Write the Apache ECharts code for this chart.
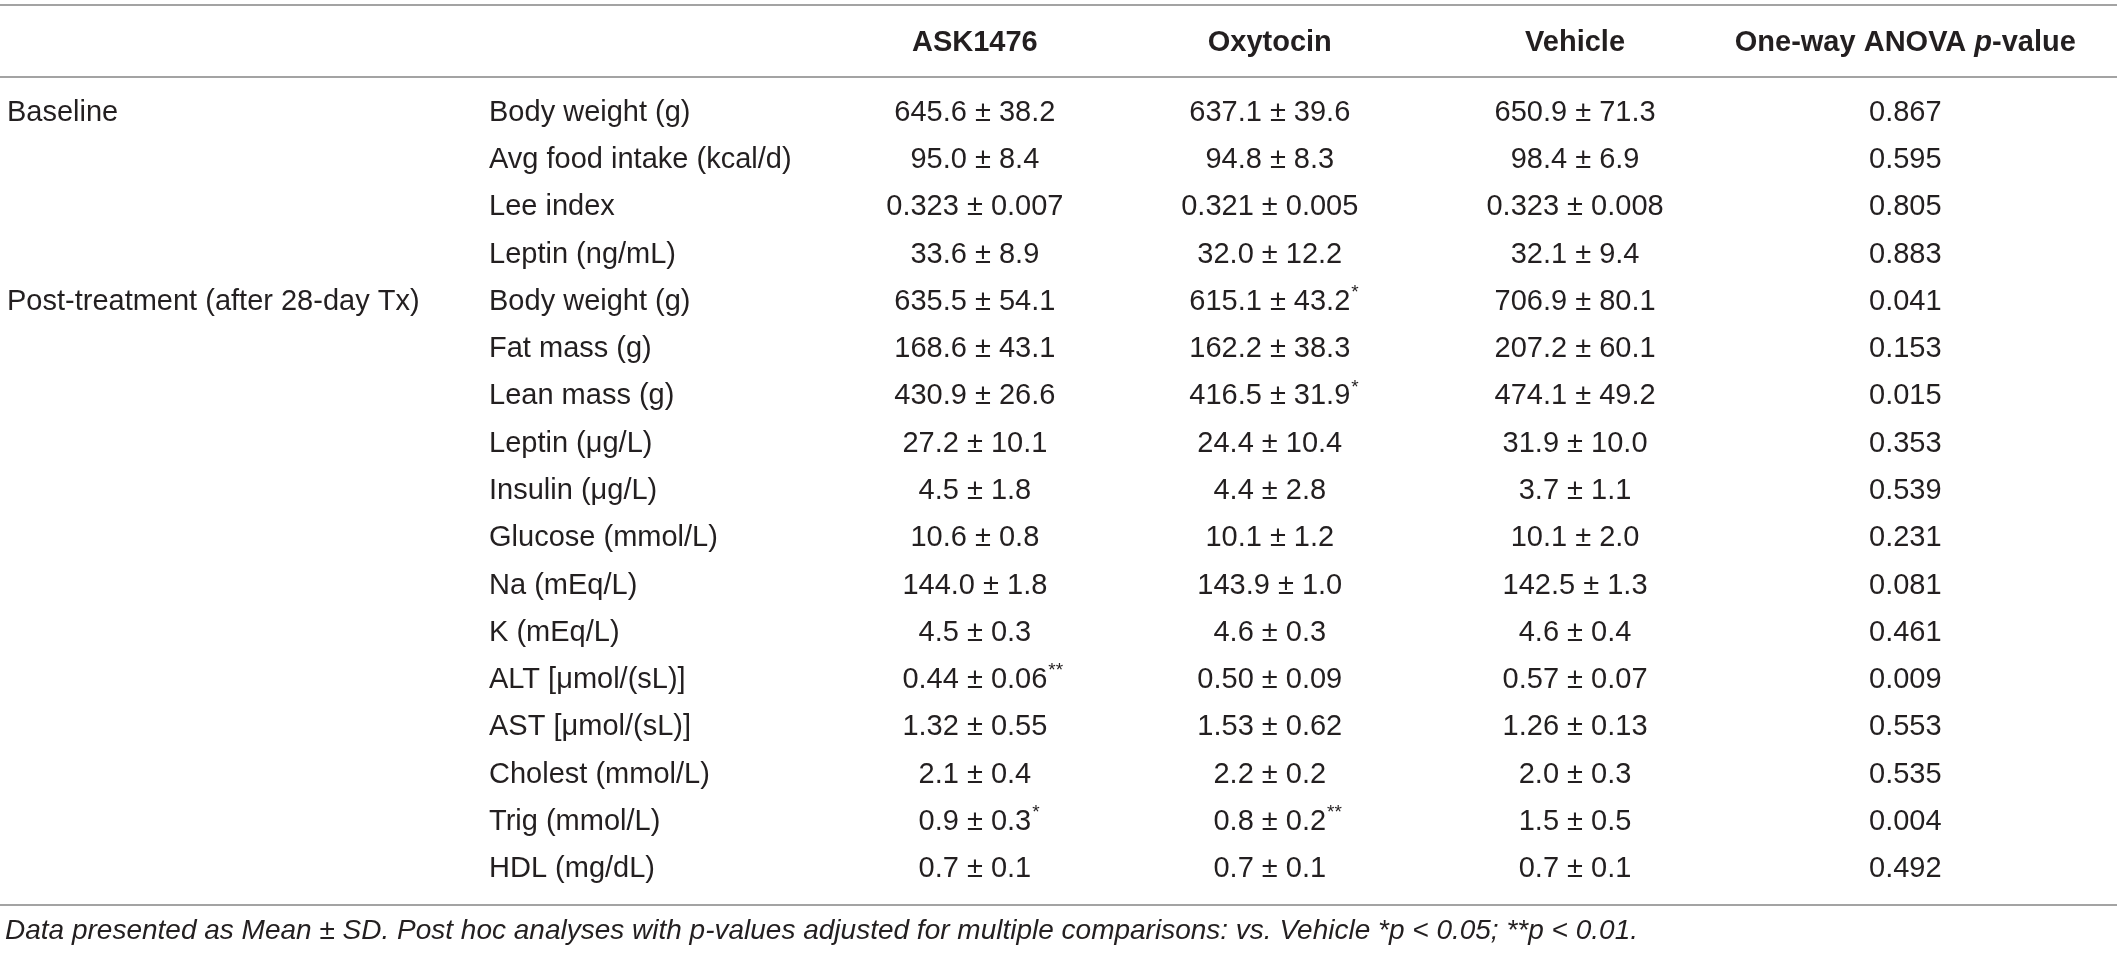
<!DOCTYPE html>
<html>
<head>
<meta charset="utf-8">
<title>Table</title>
<script src="https://cdn.jsdelivr.net/npm/echarts@6/dist/echarts.min.js"></script>
<style>
  html, body { margin: 0; padding: 0; background: #fff; }
  #chart { width: 100vw; height: 100vh; }
</style>
</head>
<body>
<div id="chart"></div>
<script>
// table content
const headers = ['', '', 'ASK1476', 'Oxytocin', 'Vehicle', 'One-way ANOVA p-value'];

const groups = ['Baseline', '', '', '', 'Post-treatment (after 28-day Tx)', '', '', '', '', '', '', '', '', '', '', '', ''];

const measures = [
  'Body weight (g)', 'Avg food intake (kcal/d)', 'Lee index', 'Leptin (ng/mL)',
  'Body weight (g)', 'Fat mass (g)', 'Lean mass (g)', 'Leptin (\u03bcg/L)', 'Insulin (\u03bcg/L)',
  'Glucose (mmol/L)', 'Na (mEq/L)', 'K (mEq/L)', 'ALT [\u03bcmol/(sL)]', 'AST [\u03bcmol/(sL)]',
  'Cholest (mmol/L)', 'Trig (mmol/L)', 'HDL (mg/dL)'
];

const ask1476 = [
  '645.6 ± 38.2', '95.0 ± 8.4', '0.323 ± 0.007', '33.6 ± 8.9',
  '635.5 ± 54.1', '168.6 ± 43.1', '430.9 ± 26.6', '27.2 ± 10.1', '4.5 ± 1.8',
  '10.6 ± 0.8', '144.0 ± 1.8', '4.5 ± 0.3', '0.44 ± 0.06**', '1.32 ± 0.55',
  '2.1 ± 0.4', '0.9 ± 0.3*', '0.7 ± 0.1'
];

const oxytocin = [
  '637.1 ± 39.6', '94.8 ± 8.3', '0.321 ± 0.005', '32.0 ± 12.2',
  '615.1 ± 43.2*', '162.2 ± 38.3', '416.5 ± 31.9*', '24.4 ± 10.4', '4.4 ± 2.8',
  '10.1 ± 1.2', '143.9 ± 1.0', '4.6 ± 0.3', '0.50 ± 0.09', '1.53 ± 0.62',
  '2.2 ± 0.2', '0.8 ± 0.2**', '0.7 ± 0.1'
];

const vehicle = [
  '650.9 ± 71.3', '98.4 ± 6.9', '0.323 ± 0.008', '32.1 ± 9.4',
  '706.9 ± 80.1', '207.2 ± 60.1', '474.1 ± 49.2', '31.9 ± 10.0', '3.7 ± 1.1',
  '10.1 ± 2.0', '142.5 ± 1.3', '4.6 ± 0.4', '0.57 ± 0.07', '1.26 ± 0.13',
  '2.0 ± 0.3', '1.5 ± 0.5', '0.7 ± 0.1'
];

const anovaP = [
  '0.867', '0.595', '0.805', '0.883',
  '0.041', '0.153', '0.015', '0.353', '0.539',
  '0.231', '0.081', '0.461', '0.009', '0.553',
  '0.535', '0.004', '0.492'
];

const footnote = 'Data presented as Mean \u00b1 SD. Post hoc analyses with p-values adjusted for multiple comparisons: vs. Vehicle *p < 0.05; **p < 0.01.';

// layout: column anchors in percent of width
const COLS = [
  { x: 0.33, align: 'left' },
  { x: 23.1, align: 'left' },
  { x: 46.05, align: 'center' },
  { x: 59.98, align: 'center' },
  { x: 74.4, align: 'center' },
  { x: 90.0, align: 'center' }
];
const FAMILY = '"Liberation Sans", Arial, sans-serif';
const FS = 29;
const INK = '#231f20';
const RULE = '#a3a3a3';

const rowCount = measures.length;
const columns = [groups, measures, ask1476, oxytocin, vehicle, anovaP];

const ctx = document.createElement('canvas').getContext('2d');
function textWidth(s, font) {
  ctx.font = font;
  return ctx.measureText(s).width;
}

// one custom series per column, rows placed by the category y axis
function cellSeries(colIdx) {
  const col = COLS[colIdx];
  const values = columns[colIdx];
  return {
    type: 'custom',
    xAxisIndex: 0,
    yAxisIndex: 0,
    silent: true,
    data: values.map((v, i) => [col.x, i]),
    renderItem: function (params, api) {
      const raw = values[params.dataIndex];
      if (!raw) return null;
      const p = api.coord([api.value(0), api.value(1)]);
      const m = raw.match(/^(.*?)(\**)$/);
      const main = m[1], stars = m[2];
      const font = FS + 'px ' + FAMILY;
      const children = [{
        type: 'text',
        x: p[0], y: p[1],
        style: {
          text: main, fill: INK, fontSize: FS, fontFamily: FAMILY,
          align: col.align, verticalAlign: 'middle'
        }
      }];
      if (stars) {
        // superscript significance marks sit right after the centred value
        const w = textWidth(main, font);
        const left = col.align === 'center' ? p[0] + w / 2 : p[0] + w;
        children.push({
          type: 'text',
          x: left + 1, y: p[1] - 9,
          style: {
            text: stars, fill: INK, fontSize: 19, fontFamily: FAMILY,
            align: 'left', verticalAlign: 'middle'
          }
        });
      }
      return { type: 'group', children: children };
    }
  };
}

function headerSeries(colIdx) {
  const col = COLS[colIdx];
  const label = headers[colIdx];
  return {
    type: 'custom',
    xAxisIndex: 1,
    yAxisIndex: 1,
    silent: true,
    data: [[col.x, 0]],
    renderItem: function (params, api) {
      if (!label) return null;
      const p = api.coord([api.value(0), api.value(1)]);
      const text = label.replace(' p-', ' {i|p}-');
      return {
        type: 'text',
        x: p[0], y: p[1],
        style: {
          text: text, fill: INK, fontSize: FS, fontWeight: 'bold', fontFamily: FAMILY,
          align: col.align, verticalAlign: 'middle',
          rich: {
            i: { fontSize: FS, fontWeight: 'bold', fontStyle: 'italic', fontFamily: FAMILY, fill: INK }
          }
        }
      };
    }
  };
}

const chart = echarts.init(document.getElementById('chart'), null, { renderer: 'canvas' });

const series = [];
for (let c = 0; c < columns.length; c++) series.push(cellSeries(c));
for (let c = 2; c < headers.length; c++) series.push(headerSeries(c));

chart.setOption({
  animation: false,
  backgroundColor: '#fff',
  title: {
    text: footnote,
    left: 5,
    top: 917,
    padding: 0,
    textStyle: {
      fontSize: 28, fontStyle: 'italic', fontWeight: 'normal',
      fontFamily: FAMILY, color: INK
    }
  },
  grid: [
    { left: 0, right: 0, top: 89, bottom: 61 },
    { left: 0, right: 0, top: 7, height: 72 }
  ],
  xAxis: [
    { type: 'value', gridIndex: 0, min: 0, max: 100, show: false },
    { type: 'value', gridIndex: 1, min: 0, max: 100, show: false }
  ],
  yAxis: [
    { type: 'category', gridIndex: 0, inverse: true, show: false, data: measures.map((m, i) => 'r' + i) },
    { type: 'category', gridIndex: 1, show: false, data: ['header'] }
  ],
  graphic: [
    { type: 'line', shape: { x1: 0, y1: 5, x2: 2117, y2: 5 }, style: { stroke: RULE, lineWidth: 2 } },
    { type: 'line', shape: { x1: 0, y1: 77, x2: 2117, y2: 77 }, style: { stroke: RULE, lineWidth: 2 } },
    { type: 'line', shape: { x1: 0, y1: 905, x2: 2117, y2: 905 }, style: { stroke: RULE, lineWidth: 2 } }
  ],
  series: series
});
</script>
</body>
</html>
